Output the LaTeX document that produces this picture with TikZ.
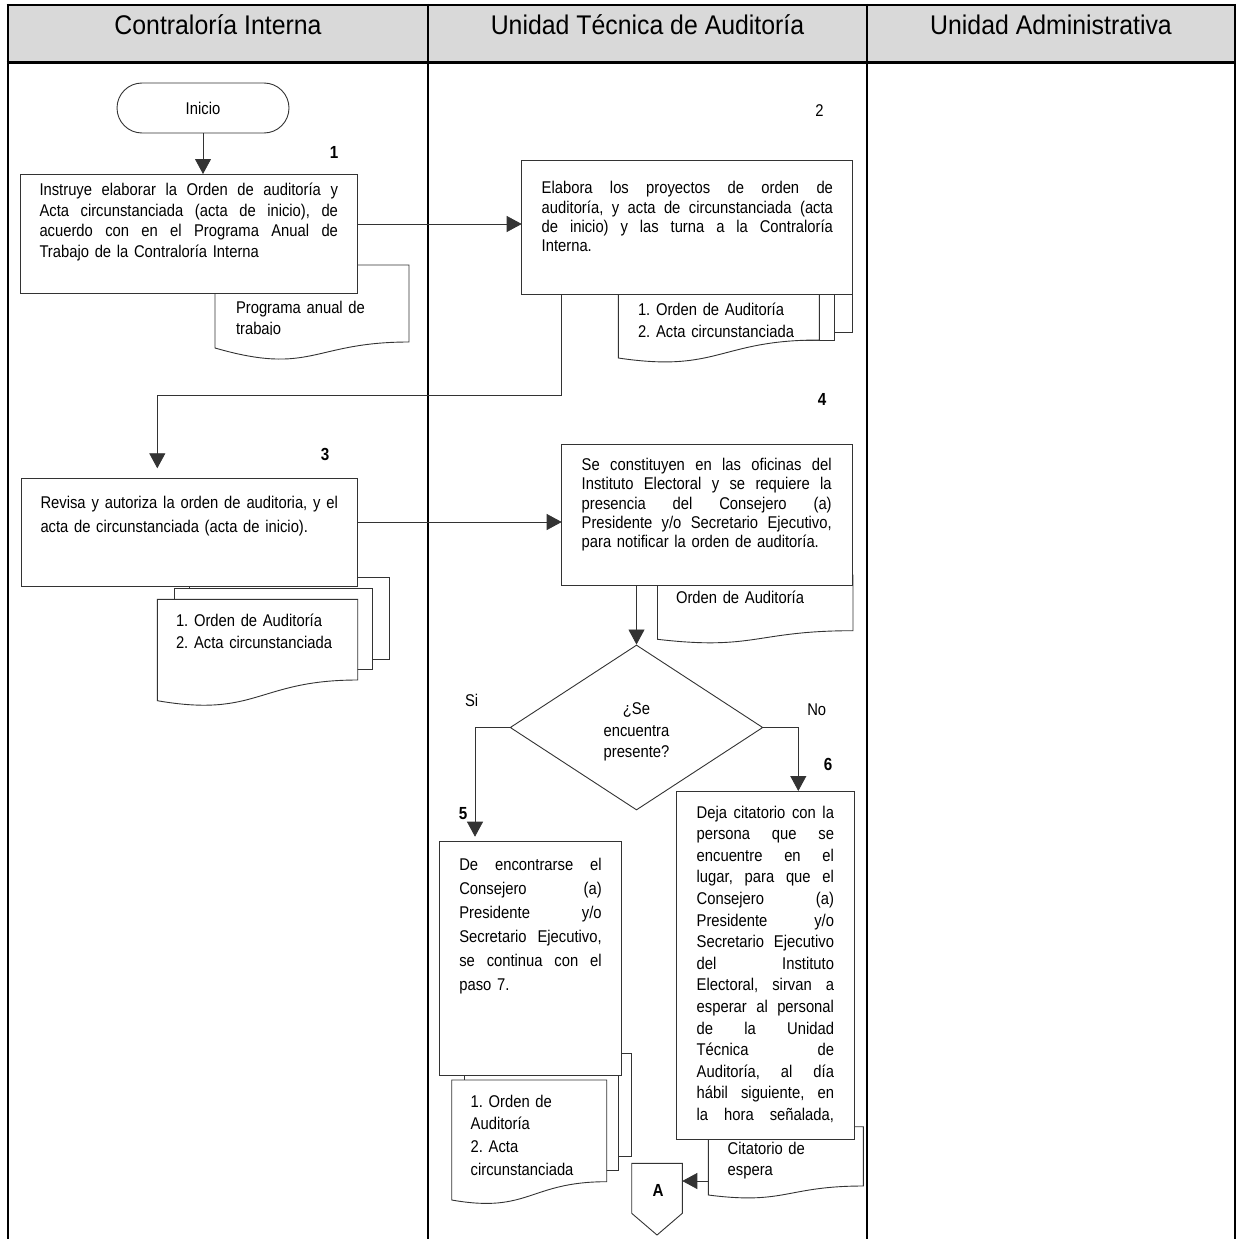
\documentclass[tikz,border=0pt]{standalone}
\usepackage{fontspec}
\setmainfont{Liberation Sans}[FakeStretch=0.87]
\newfontfamily\headfont{Liberation Sans}[FakeStretch=0.92]
\usetikzlibrary{arrows.meta,shapes.geometric}
\definecolor{headgray}{HTML}{D9D9D9}
\newcommand\jl[1]{\makebox[\hsize][s]{\spaceskip=0pt\xspaceskip=0pt #1}}
\newcommand\docshape[6]{\draw[docst] (#1,#2) -- (#3,#2) -- (#3,#4) .. controls ({(#1+#3)/2},#4) and ({(#1+#3)/2},{#4+#6}) .. (#1,#5) -- cycle;}
\begin{document}
\frenchspacing
\begin{tikzpicture}[x=1pt,y=-1pt,
  box/.style={draw=black!80, line width=0.9pt, fill=white, inner sep=0pt, outer sep=0pt},
  docst/.style={draw=black!80, line width=0.9pt, fill=white},
  conn/.style={draw=black!80, line width=0.8pt, -{Triangle[width=16pt,length=15pt]}},
  body/.style={inner sep=0pt, outer sep=0pt, anchor=base west, align=left},
  num/.style={inner sep=0pt, anchor=base, font=\fontsize{17.5}{22}\selectfont\bfseries},
  lbl/.style={inner sep=0pt, anchor=base, font=\fontsize{17}{22}\selectfont},
  head/.style={inner sep=0pt, anchor=base, font=\headfont\fontsize{27}{32}\selectfont},
  frame/.style={line width=2pt, draw=black}]
\useasboundingbox (0,0) rectangle (1236,1239);

% header and lanes
\fill[headgray] (7.5,5) rectangle (1235,62.7);
\draw[frame] (6.5,5) -- (1236,5);
\draw[frame] (7.5,4) -- (7.5,1239);
\draw[frame] (1235,4) -- (1235,1239);
\draw[frame] (428,4) -- (428,1239);
\draw[frame] (867,4) -- (867,1239);
\draw[line width=2.6pt] (6.5,62.7) -- (1236,62.7);
\node[head] (h1) at (218,35) {Contraloría Interna};
\node[head] (h2) at (647.5,35) {Unidad Técnica de Auditoría};
\node[head] (h3) at (1051,35) {Unidad Administrativa};

% documents (behind the boxes)
\docshape{215}{265}{409}{342}{348}{34}
\begin{scope}
\clip (215,265) rectangle (409,334.5);
\node[body, text width=170pt, font=\fontsize{17}{21}\selectfont] (d1t) at (236,313) {Programa anual de\\trabajo};
\end{scope}

\draw[docst] (651,240) rectangle (852,332.7);
\draw[docst] (633,250) rectangle (834,340);
\docshape{618.3}{260}{819.3}{340}{358}{33}
\node[body, text width=190pt, font=\fontsize{17}{21.7}\selectfont] (d2t) at (638,315.5) {1. Orden de Auditoría\\2. Acta circunstanciada};

\draw[docst] (189.5,577.3) rectangle (389.3,659.3);
\draw[docst] (174,588.5) rectangle (372.3,669.3);
\docshape{157.3}{599.3}{357.7}{680}{700.7}{38}
\node[body, text width=190pt, font=\fontsize{17}{22}\selectfont] (d3t) at (176,626.5) {1. Orden de Auditoría\\2. Acta circunstanciada};

\docshape{657.5}{575}{853}{630.7}{639.3}{20}
\node[body, text width=170pt, font=\fontsize{17}{22}\selectfont] (d4t) at (676,603.5) {Orden de Auditoría};

\draw[docst] (477,1053.3) rectangle (631.7,1156.7);
\draw[docst] (464.3,1069) rectangle (618.3,1170);
\docshape{451.7}{1080}{606.7}{1181.7}{1200}{32}
\node[body, text width=130pt, font=\fontsize{17}{22.8}\selectfont] (d5t) at (470.7,1107) {1. Orden de\\Auditoría\\2. Acta\\circunstanciada};

\docshape{708.3}{1126.7}{863.3}{1186}{1195}{19}
\begin{scope}
\clip (708.3,1126.7) rectangle (863.3,1178);
\node[body, text width=130pt, font=\fontsize{17}{21.7}\selectfont] (d6t) at (727.7,1154) {Citatorio de\\espera};
\end{scope}

% process boxes
\node[box, rounded corners=25pt, minimum width=172pt, minimum height=50pt] (inicio) at (203,108) {};
\node[lbl, anchor=center] (inicioT) at (inicio.center) {Inicio};

\node[box, minimum width=337pt, minimum height=119pt] (b1) at (189,233.5) {};
\node[body, text width=298.5pt, font=\fontsize{17}{20.7}\selectfont] (t1) at (39.5,195.5)
 {\jl{Instruye elaborar la Orden de auditoría y}\\\jl{Acta circunstanciada (acta de inicio), de}\\\jl{acuerdo con en el Programa Anual de}\\Trabajo de la Contraloría Interna};

\node[box, minimum width=331pt, minimum height=134pt] (b2) at (687.2,227) {};
\node[body, text width=291.3pt, font=\fontsize{17}{19.3}\selectfont] (t2) at (541.7,193.8)
 {\jl{Elabora los proyectos de orden de}\\\jl{auditoría, y acta de circunstanciada (acta}\\\jl{de inicio) y las turna a la Contraloría}\\Interna.};

\node[box, minimum width=336.2pt, minimum height=108.4pt] (b3) at (189.6,532.5) {};
\node[body, text width=297.5pt, font=\fontsize{17}{24}\selectfont] (t3) at (40.5,508.8)
 {\jl{Revisa y autoriza la orden de auditoria, y el}\\acta de circunstanciada (acta de inicio).};

\node[box, minimum width=291pt, minimum height=141.5pt] (b4) at (707.2,514.75) {};
\node[body, text width=250pt, font=\fontsize{17}{19.3}\selectfont] (t4) at (581.7,470.5)
 {\jl{Se constituyen en las oficinas del}\\\jl{Instituto Electoral y se requiere la}\\\jl{presencia del Consejero (a)}\\\jl{Presidente y/o Secretario Ejecutivo,}\\para notificar la orden de auditoría.};

\node[draw=black!80, line width=0.9pt, fill=white, shape=diamond, minimum width=252.7pt, minimum height=165pt, inner sep=0pt] (dia) at (636.5,727.5) {};
\node[lbl, text width=150pt, align=center, font=\fontsize{17}{21.7}\selectfont] (diaT) at (636.5,714.5) {¿Se\\encuentra\\presente?};

\node[box, minimum width=182.4pt, minimum height=233.3pt] (b5) at (530.5,958.35) {};
\node[body, text width=142.4pt, font=\fontsize{17}{23.9}\selectfont] (t5) at (459.3,870.5)
 {\jl{De encontrarse el}\\\jl{Consejero (a)}\\\jl{Presidente y/o}\\\jl{Secretario Ejecutivo,}\\\jl{se continua con el}\\paso 7.};

\node[box, minimum width=177.3pt, minimum height=348.3pt] (b6) at (765.35,965.15) {};
\node[body, text width=137.3pt, font=\fontsize{17}{21.6}\selectfont] (t6) at (696.7,818)
 {\jl{Deja citatorio con la}\\\jl{persona que se}\\\jl{encuentre en el}\\\jl{lugar, para que el}\\\jl{Consejero (a)}\\\jl{Presidente y/o}\\\jl{Secretario Ejecutivo}\\\jl{del Instituto}\\\jl{Electoral, sirvan a}\\\jl{esperar al personal}\\\jl{de la Unidad}\\\jl{Técnica de}\\\jl{Auditoría, al día}\\\jl{hábil siguiente, en}\\\jl{la hora señalada,}};

% off-page connector A
\node[inner sep=0pt, outer sep=0pt, minimum width=50.6pt, minimum height=71.7pt] (offA) at (657,1199.15) {};
\draw[box] (631.7,1163.3) -- (682.3,1163.3) -- (682.3,1213.3) -- (657,1235) -- (631.7,1213.3) -- cycle;
\node[num] (offAT) at (658,1196.6) {A};

% helper coordinates for elbows
\coordinate (k1) at (561.5,395.5);
\coordinate (k2) at (157.3,395.5);
\coordinate (k3) at (0,522);
\coordinate (k4) at (475,727.5);
\coordinate (k5) at (798.3,727.5);
\coordinate (k6) at (0,224);
\coordinate (citL) at (708.3,1181);

% connectors
\draw[conn] (inicio.south) -- (b1.north -| inicio.south);
\draw[conn] (b1.east |- k6) -- (b2.west |- k6);
\draw[conn, shorten >=10pt] (b2.south -| k1) -- (k1) -- (k2) -- (b3.north -| k2);
\draw[conn] (b3.east |- k3) -- (b4.west |- k3);
\draw[conn] (b4.south -| dia.north) -- (dia.north);
\draw[conn, shorten >=5pt] (dia.west) -- (k4) -- (b5.north -| k4);
\draw[conn] (dia.east) -- (k5) -- (b6.north -| k5);
\draw[conn] (citL) -- (offA.east |- citL);

% step numbers and labels
\node[num] (n1) at (334,158.6) {1};
\node[lbl] (n2) at (819.5,116.6) {2};
\node[num] (n3) at (325,460) {3};
\node[num] (n4) at (822,405.6) {4};
\node[num] (n5) at (463,819.3) {5};
\node[num] (n6) at (828,770) {6};
\node[lbl] (si) at (471.7,706.6) {Si};
\node[lbl] (no) at (816.7,715) {No};
\end{tikzpicture}
\end{document}
